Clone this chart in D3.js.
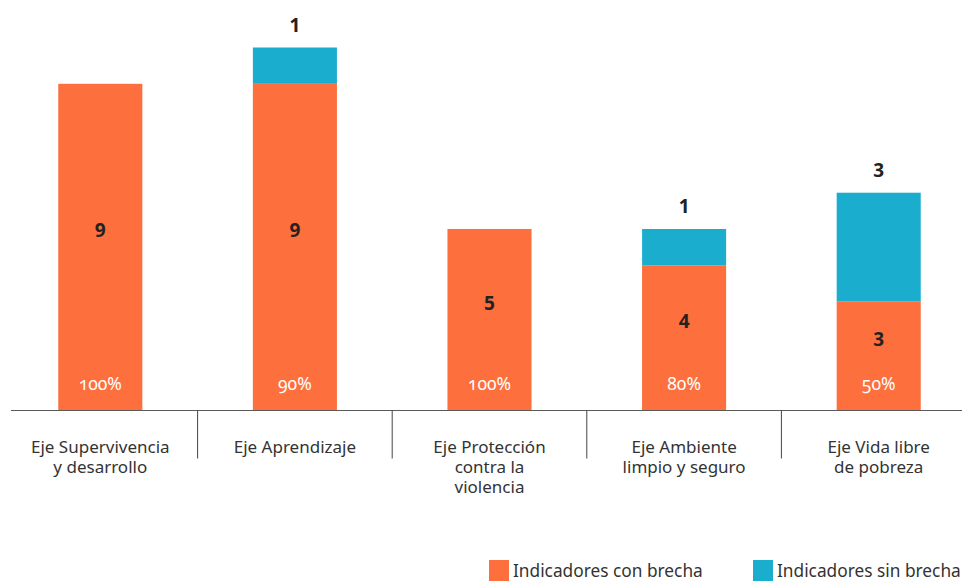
<!DOCTYPE html>
<html>
<head>
<meta charset="utf-8">
<script src="https://cdn.jsdelivr.net/npm/d3@7"></script>
<style>
  body { margin: 0; background: #fff; }
  svg { display: block; font-family: "Noto Sans", "Open Sans", sans-serif; }
  .pct { font-variant-numeric: oldstyle-nums; font-feature-settings: "onum"; }
</style>
</head>
<body>
<svg id="chart" width="962" height="581"></svg>
<script>
// data
const categories = [
    "Eje Supervivencia\ny desarrollo",
    "Eje Aprendizaje",
    "Eje Protección\ncontra la\nviolencia",
    "Eje Ambiente\nlimpio y seguro",
    "Eje Vida libre\nde pobreza"
];
const conBrecha = [9, 9, 5, 4, 3];
const sinBrecha = [0, 1, 0, 1, 3];
const porcentaje = ["100%", "90%", "100%", "80%", "50%"];
const seriesNames = ["Indicadores con brecha", "Indicadores sin brecha"];
const colors = ["#fd6f3c", "#1badce"];

const svg = d3.select("#chart");
const baseY = 410.5;

const rows = categories.map(function (c, i) {
    return { cat: c, con: conBrecha[i], sin: sinBrecha[i], pct: porcentaje[i] };
});

const X = d3.scaleBand()
    .domain(categories)
    .range([3, 976])
    .paddingInner(0.568)
    .paddingOuter(0.284);

const Y = d3.scaleLinear()
    .domain([0, 10])
    .range([baseY, baseY - 363]);

const stacked = d3.stack().keys(["con", "sin"])(rows);

// bars
svg.append("g").selectAll("g")
    .data(stacked)
    .enter()
    .append("g")
    .attr("fill", function (d, i) { return colors[i]; })
    .selectAll("rect")
    .data(function (d) { return d.filter(function (p) { return p[1] > p[0]; }); })
    .enter()
    .append("rect")
    .attr("x", function (d) { return X(d.data.cat); })
    .attr("width", X.bandwidth())
    .attr("y", function (d) { return Y(d[1]); })
    .attr("height", function (d) { return Y(d[0]) - Y(d[1]); });

// baseline + separators
svg.append("line")
    .attr("x1", 11).attr("x2", 962)
    .attr("y1", baseY).attr("y2", baseY)
    .attr("stroke", "#5a5a5a").attr("stroke-width", 1.2);

const step = X.step();
svg.append("g").selectAll("line")
    .data(categories.slice(1))
    .enter()
    .append("line")
    .attr("x1", function (d) { return X(d) - (step - X.bandwidth()) / 2; })
    .attr("x2", function (d) { return X(d) - (step - X.bandwidth()) / 2; })
    .attr("y1", baseY).attr("y2", baseY + 48)
    .attr("stroke", "#444").attr("stroke-width", 1);

// orange value labels
svg.append("g").selectAll("text")
    .data(rows)
    .enter()
    .append("text")
    .attr("x", function (d) { return X(d.cat) + X.bandwidth() / 2; })
    .attr("y", function (d) { return (Y(0) + Y(d.con)) / 2 - 17; })
    .attr("text-anchor", "middle")
    .attr("dominant-baseline", "central")
    .attr("font-size", 19)
    .attr("font-weight", "bold")
    .attr("fill", "#222")
    .text(function (d) { return d.con; });

// blue value labels above the bars
svg.append("g").selectAll("text")
    .data(rows.filter(function (d) { return d.sin > 0; }))
    .enter()
    .append("text")
    .attr("x", function (d) { return X(d.cat) + X.bandwidth() / 2; })
    .attr("y", function (d) { return Y(d.con + d.sin) - 23; })
    .attr("text-anchor", "middle")
    .attr("dominant-baseline", "central")
    .attr("font-size", 19)
    .attr("font-weight", "bold")
    .attr("fill", "#222")
    .text(function (d) { return d.sin; });

// percentages
svg.append("g").selectAll("text")
    .data(rows)
    .enter()
    .append("text")
    .attr("class", "pct")
    .attr("x", function (d) { return X(d.cat) + X.bandwidth() / 2; })
    .attr("y", baseY - 28)
    .attr("text-anchor", "middle")
    .attr("dominant-baseline", "central")
    .attr("font-size", 17.5)
    .attr("fill", "#fff")
    .text(function (d) { return d.pct; });

// category labels
const catLabels = svg.append("g").selectAll("text")
    .data(categories)
    .enter()
    .append("text")
    .attr("text-anchor", "middle")
    .attr("font-size", 17)
    .attr("fill", "#333");

catLabels.selectAll("tspan")
    .data(function (d) { return d.split("\n").map(function (l) { return { line: l, cat: d }; }); })
    .enter()
    .append("tspan")
    .attr("x", function (d) { return X(d.cat) + X.bandwidth() / 2; })
    .attr("y", function (d, i) { return 452.5 + i * 20.3; })
    .text(function (d) { return d.line; });

// legend
const legendX = [489, 753];
const legend = svg.append("g").selectAll("g")
    .data(seriesNames)
    .enter()
    .append("g")
    .attr("transform", function (d, i) { return `translate(${legendX[i]},560)`; });

legend.append("rect")
    .attr("width", 20).attr("height", 21)
    .attr("fill", function (d, i) { return colors[i]; });

legend.append("text")
    .attr("x", 24).attr("y", 17)
    .attr("font-size", 17.3)
    .attr("fill", "#333")
    .text(function (d) { return d; });
</script>
</body>
</html>
